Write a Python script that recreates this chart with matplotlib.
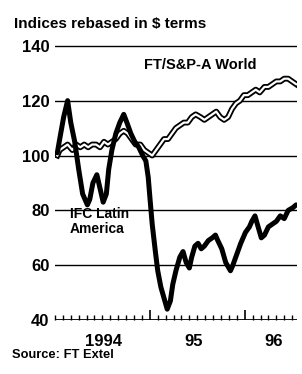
import matplotlib.pyplot as plt
import numpy as np

# IFC Latin America vs FT/S&P-A World, indices rebased in $ terms
# x values are months since start of Jan 1994
IFC_MONTHS = [0.3, 0.6, 1.1, 1.6, 2.0, 2.5, 3.0, 3.5, 4.1, 4.4, 4.8, 5.3, 5.7, 6.1, 6.5,
              6.8, 7.2, 7.7, 8.2, 8.7, 9.1, 9.6, 10.1, 10.6, 11.1, 11.5, 11.8, 12.0, 12.3,
              12.7, 13.0, 13.4, 13.8, 14.2, 14.6, 14.9, 15.3, 15.8, 16.2, 16.6, 17.0, 17.3,
              17.7, 18.1, 18.5, 18.9, 19.4, 19.9, 20.3, 20.6, 21.1, 21.6, 22.2, 22.5, 23.0,
              23.5, 24.1, 24.6, 24.9, 25.3, 25.7, 26.1, 26.5, 27.0, 27.5, 28.0, 28.5, 29.0,
              29.5, 30.1, 30.5]
IFC_VALUES = [101, 106, 114, 120, 112, 105, 95, 86, 82, 84, 90, 93, 88, 83, 86,
              95, 102, 108, 112, 115, 112, 108, 105, 103, 100, 98, 92, 85, 75,
              65, 58, 52, 48, 44, 47, 53, 58, 63, 65, 61, 59, 63,
              67, 68, 66, 67, 69, 70, 71, 69, 66, 61, 58, 60, 64,
              68, 72, 74, 76, 78, 74, 70, 71, 74, 75, 76, 78, 77,
              80, 81, 82]

WORLD_MONTHS = [0.3, 0.6, 1.1, 1.6, 2.2, 2.7, 3.2, 3.7, 4.2, 4.7, 5.2, 5.7, 6.2, 6.7,
                7.2, 7.7, 8.2, 8.7, 9.2, 9.7, 10.2, 10.8, 11.3, 11.8, 12.3, 12.8, 13.3,
                13.8, 14.3, 14.8, 15.3, 15.8, 16.3, 16.8, 17.3, 17.8, 18.4, 18.9, 19.4,
                19.9, 20.4, 20.9, 21.4, 21.9, 22.4, 22.9, 23.4, 23.9, 24.4, 24.9, 25.4,
                25.9, 26.5, 27.0, 27.5, 28.0, 28.5, 29.0, 29.5, 30.0, 30.5]
WORLD_VALUES = [100, 102, 103, 104, 102, 104, 103, 104, 103, 104, 104, 103, 105, 104,
                105, 106, 108, 109, 108, 106, 104, 104, 102, 101, 100, 102, 104,
                106, 106, 108, 110, 111, 112, 112, 114, 115, 114, 113, 114,
                115, 116, 114, 113, 114, 117, 119, 120, 122, 122, 123, 124,
                123, 125, 125, 126, 127, 127, 128, 128, 127, 126]

Y_TICKS = [140, 120, 100, 80, 60, 40]
YEAR_LABELS = ["1994", "95", "96"]
YEAR_LABEL_POS = [6.2, 17.5, 27.7]

plt.rcParams['font.family'] = ['Liberation Sans', 'DejaVu Sans']

fig = plt.figure(figsize=(3.02, 3.74), dpi=100)
ax = fig.add_axes([0.182, 0.144, 0.801, 0.741])

# grid lines
for v in Y_TICKS[:-1]:
    ax.axhline(v, color='black', lw=1.0, zorder=1)
ax.axhline(40, color='black', lw=2.0, zorder=1)

# FT/S&P-A World: outlined (double) line
ax.plot(WORLD_MONTHS, WORLD_VALUES, color='black', lw=4.2, solid_joinstyle='round', zorder=2)
ax.plot(WORLD_MONTHS, WORLD_VALUES, color='white', lw=1.6, solid_joinstyle='round', zorder=3)

# IFC Latin America: heavy line
ax.plot(IFC_MONTHS, IFC_VALUES, color='black', lw=3.6, solid_joinstyle='round',
        solid_capstyle='round', zorder=4)

ax.set_xlim(0, 30.6)
ax.set_ylim(40, 141)
for s in ax.spines.values():
    s.set_visible(False)

ax.set_yticks(Y_TICKS)
ax.set_yticklabels([str(v) for v in Y_TICKS], fontsize=12, fontweight='bold')
ax.tick_params(axis='y', length=0, pad=4)

# month ticks pointing up from the base line, longer at year ends
ax.set_xticks(np.arange(0, 31, 1), minor=True)
ax.set_xticks([12, 24])
ax.set_xticklabels([])
ax.tick_params(axis='x', which='minor', direction='in', length=3.5, width=1.0, bottom=True)
ax.tick_params(axis='x', which='major', direction='in', length=7, width=1.2, bottom=True)

for lab, pos in zip(YEAR_LABELS, YEAR_LABEL_POS):
    ax.text(pos, 35.0, lab, ha='center', va='top', fontsize=12, fontweight='bold')

ax.text(11.2, 133.0, "FT/S&P-A World", fontsize=10.5, fontweight='bold', va='center')
ax.text(1.9, 76.0, "IFC Latin\nAmerica", fontsize=10, fontweight='bold', va='center',
        linespacing=1.1)

fig.text(0.045, 0.937, "Indices rebased in $ terms", fontsize=11, fontweight='bold',
         va='center', ha='left')
fig.text(0.04, 0.05, "Source: FT Extel", fontsize=9.3, fontweight='bold', va='center', ha='left')

fig.savefig("out.png", dpi=100)
